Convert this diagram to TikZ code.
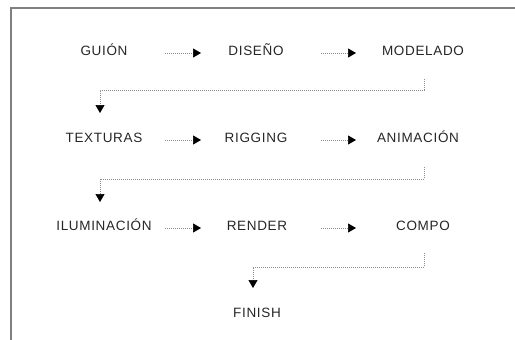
\documentclass[tikz,border=0pt]{standalone}
\usepackage{fontspec}
\setmainfont{Liberation Sans}[LetterSpace=5]
\usetikzlibrary{arrows.meta}
\begin{document}
\begin{tikzpicture}[x=1pt,y=-1pt,
  lbl/.style={font=\fontsize{13.5}{16}\selectfont, text=black!85, inner sep=0pt, anchor=base},
  flow/.style={draw=black!45, line width=0.7pt, dash pattern=on 1pt off 1pt,
    -{Triangle[length=8pt,width=9pt,color=black]}},
  frame/.style={draw=black!50, line width=2pt}]
\useasboundingbox (0,0) rectangle (515,340);
\draw[frame] (11,341) -- (11,8) -- (516,8);
\node[lbl] (gui) at (104,55) {GUIÓN};
\node[lbl] (dis) at (256,55) {DISEÑO};
\node[lbl] (mod) at (423,55) {MODELADO};
\node[lbl] (tex) at (104,142) {TEXTURAS};
\node[lbl] (rig) at (256,142) {RIGGING};
\node[lbl] (ani) at (418,142) {ANIMACIÓN};
\node[lbl] (ilu) at (104,230) {ILUMINACIÓN};
\node[lbl] (ren) at (257,230) {RENDER};
\node[lbl] (com) at (423,230) {COMPO};
\node[lbl] (fin) at (257,317) {FINISH};
\draw[flow] ([shift={(61pt,2pt)}]gui.base) -- ([shift={(-55pt,2pt)}]dis.base);
\draw[flow] ([shift={(65pt,2pt)}]dis.base) -- ([shift={(-67pt,2pt)}]mod.base);
\draw[flow] ([shift={(61pt,2pt)}]tex.base) -- ([shift={(-55pt,2pt)}]rig.base);
\draw[flow] ([shift={(65pt,2pt)}]rig.base) -- ([shift={(-62pt,2pt)}]ani.base);
\draw[flow] ([shift={(61pt,2pt)}]ilu.base) -- ([shift={(-56pt,2pt)}]ren.base);
\draw[flow] ([shift={(64pt,2pt)}]ren.base) -- ([shift={(-67pt,2pt)}]com.base);
\draw[flow] ([shift={(1pt,-24pt)}]mod.base) -- ++(0pt,-11pt) -| ([shift={(-4pt,29pt)}]tex.base);
\draw[flow] ([shift={(6pt,-25pt)}]ani.base) -- ++(0pt,-12pt) -| ([shift={(-4pt,28pt)}]ilu.base);
\draw[flow] ([shift={(1pt,-23pt)}]com.base) -- ++(0pt,-14pt) -| ([shift={(-4pt,29pt)}]fin.base);
\end{tikzpicture}
\end{document}
